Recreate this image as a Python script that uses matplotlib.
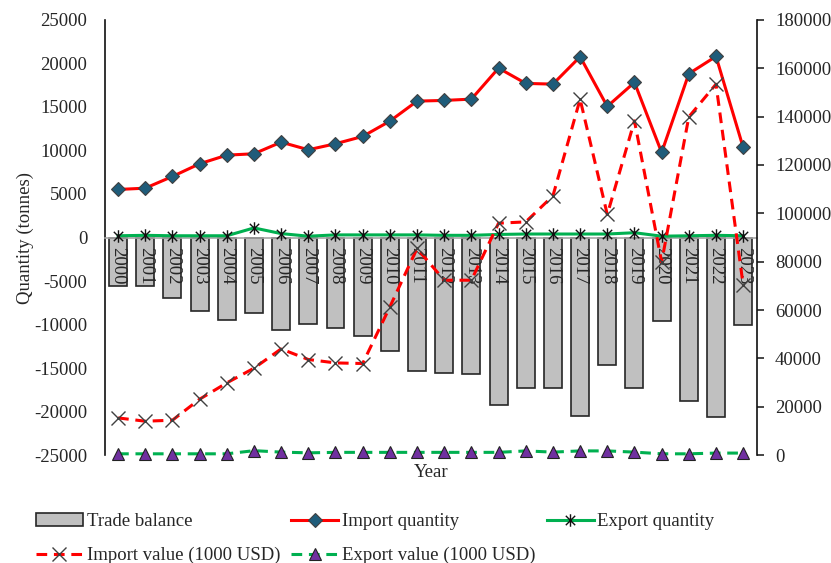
import matplotlib
matplotlib.use("Agg")
import matplotlib.pyplot as plt
from matplotlib.path import Path
import numpy as np

plt.rcParams['font.family'] = ['Liberation Serif', 'DejaVu Serif']
plt.rcParams['font.size'] = 13.5
plt.rcParams['axes.unicode_minus'] = False

years = [str(y) for y in range(2000, 2024)]
trade_balance = [-5520, -5520, -6975, -8395, -9430, -8625, -10580, -9930, -10430, -11270,
                 -13030, -15370, -15525, -15720, -19240, -17330, -17330, -20470, -14685,
                 -17330, -9545, -18780, -20620, -10085]
import_qty = [5520, 5670, 7015, 8475, 9465, 9625, 10960, 10085, 10775, 11615, 13375, 15675,
              15755, 15905, 19470, 17710, 17630, 20780, 15065, 17825, 9775, 18825, 20815, 10350]
export_qty = [200, 250, 200, 200, 200, 1100, 450, 150, 300, 300, 300, 300,
              250, 250, 350, 400, 400, 400, 400, 550, 150, 200, 250, 200]
import_val = [15350, 13990, 14400, 23090, 29840, 35920, 43900, 39520, 38110, 37860, 61280, 85450,
              72330, 72330, 95920, 96460, 107220, 147230, 99520, 138250, 79900, 139910, 153440, 70260]
export_val = [500, 500, 500, 500, 500, 1800, 1200, 900, 1100, 1100, 1100, 1100,
              1100, 1100, 1100, 1700, 1200, 1700, 1700, 1200, 500, 500, 800, 800]

x = np.arange(len(years))
txt = '#262626'
red = '#FF0000'
green = '#00B050'

# asterisk marker: vertical stroke plus an X
star = Path([(0, -1), (0, 1), (-0.75, -0.75), (0.75, 0.75), (-0.75, 0.75), (0.75, -0.75)],
            [Path.MOVETO, Path.LINETO, Path.MOVETO, Path.LINETO, Path.MOVETO, Path.LINETO])

fig = plt.figure(figsize=(8.31, 5.63), dpi=100)
ax = fig.add_axes([0.1267, 0.1918, 0.7843, 0.7727])
ax2 = ax.twinx()
ax.set_axisbelow(False)  # year labels go on top of the bars

bars = ax.bar(x, trade_balance, width=0.66, color='#C0C0C0', edgecolor='#262626',
              linewidth=1.2, label='Trade balance', zorder=2)
l_iq, = ax.plot(x, import_qty, color=red, lw=2.2, marker='D', ms=7.5,
                mfc='#1F5C7A', mec='#404040', mew=0.8, label='Import quantity', zorder=4)
l_eq, = ax.plot(x, export_qty, color=green, lw=2.2, marker=star, ms=9,
                mfc='none', mec='#111111', mew=1.0, label='Export quantity', zorder=4)
l_iv, = ax2.plot(x, import_val, color=red, lw=2.2, ls=(0, (3.5, 2.2)), marker='x', ms=10,
                 mec='#404040', mew=1.0, label='Import value (1000 USD)', zorder=4)
l_ev, = ax2.plot(x, export_val, color=green, lw=2.2, ls=(0, (3.5, 2.2)), marker='^', ms=8.5,
                 mfc='#7030A0', mec='#222222', mew=0.8, label='Export value (1000 USD)',
                 zorder=4, clip_on=False)

ax.set_xlim(-0.47, 23.51)
ax.set_ylim(-25000, 25000)
ax.set_yticks(np.arange(-25000, 25001, 5000))
ax2.set_ylim(0, 180000)
ax2.set_yticks(np.arange(0, 180001, 20000))

# x axis sits on the zero line, year labels hang down inside the bars
ax.spines['bottom'].set_position(('data', 0))
ax.spines['bottom'].set_color('#A6A6A6')
ax.spines['bottom'].set_linewidth(1.2)
ax.set_xticks(x)
ax.set_xticklabels(years, rotation=270, va='top', ha='center')
ax.tick_params(axis='x', length=0, pad=7, colors=txt)
ax.tick_params(axis='y', length=0, pad=13, colors=txt)
ax2.tick_params(axis='y', length=5, width=1.2, pad=8, colors=txt, direction='out')

for s in ['top']:
    ax.spines[s].set_visible(False)
    ax2.spines[s].set_visible(False)
ax2.spines['bottom'].set_visible(False)
ax2.spines['left'].set_visible(False)
ax.spines['right'].set_visible(False)
ax.spines['left'].set_color('#111111')
ax.spines['left'].set_linewidth(1.2)
ax2.spines['right'].set_color('#111111')
ax2.spines['right'].set_linewidth(1.2)

ax.set_ylabel('Quantity (tonnes)', color=txt)
ax.yaxis.set_label_coords(-0.11, 0.5)
ax.set_xlabel('Year', color=txt)
ax.xaxis.set_label_coords(0.5, -0.02)

handles = [bars, l_iv, l_iq, l_ev, l_eq]
fig.legend(handles, [h.get_label() for h in handles], ncol=3, frameon=False,
           loc='upper left', bbox_to_anchor=(36 / 831, 1 - 513 / 563),
           borderpad=0, borderaxespad=0, handlelength=2.5, handletextpad=0.2,
           columnspacing=0.6, labelspacing=0.9, labelcolor=txt)

fig.savefig('out.png', dpi=100)
